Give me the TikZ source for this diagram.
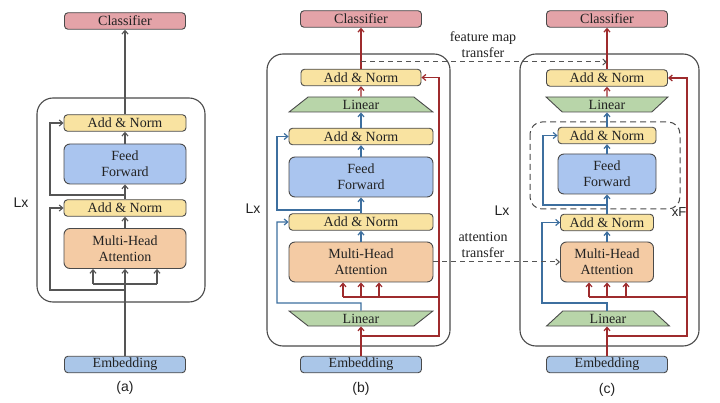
\documentclass[tikz,border=0pt]{standalone}
\usepackage{fontspec}
\setmainfont{Liberation Serif}
\newfontfamily\sflabel{Liberation Sans}
\usetikzlibrary{shapes.geometric,arrows.meta}

\definecolor{clsfill}{HTML}{E4A3A8}
\definecolor{anfill}{HTML}{F9E3A1}
\definecolor{fffill}{HTML}{AAC5EF}
\definecolor{mhafill}{HTML}{F4CBA4}
\definecolor{embfill}{HTML}{AAC6E8}
\definecolor{linfill}{HTML}{B8D5A9}
\definecolor{boxline}{HTML}{4A4A4A}
\definecolor{grayline}{HTML}{555555}
\definecolor{redline}{HTML}{9E2B2D}
\definecolor{blueline}{HTML}{3D6F9F}
\definecolor{txt}{HTML}{222222}

\tikzset{
    box/.style={draw=boxline, line width=0.9pt, rounded corners=3.5pt,
        inner sep=0pt, text=txt, align=center,
        font=\rmfamily\fontsize{14}{16}\selectfont},
    clsbox/.style={box, fill=clsfill, minimum width=121pt, minimum height=16.5pt},
    embbox/.style={box, fill=embfill, minimum width=121pt, minimum height=16.5pt},
    anbox/.style={box, fill=anfill, minimum width=#1, minimum height=16.5pt},
    ffbox/.style={box, fill=fffill, minimum width=#1, minimum height=40pt, rounded corners=6pt},
    mhabox/.style={box, fill=mhafill, minimum width=#1, minimum height=40pt, rounded corners=6pt},
    linbox/.style={draw=boxline, line width=0.9pt, fill=linfill, trapezium,
        trapezium left angle=55, trapezium right angle=55, trapezium stretches=true,
        minimum width=#1, minimum height=15pt, inner sep=0pt, text=txt,
        font=\rmfamily\fontsize{14}{16}\selectfont},
    blockline/.style={draw=boxline, line width=1.1pt, rounded corners=16pt},
    ffgroup/.style={draw=boxline, line width=1pt, dash pattern=on 6pt off 4pt, rounded corners=12pt},
    gline/.style={draw=grayline, line width=1.1pt},
    rline/.style={draw=redline, line width=1.2pt},
    bline/.style={draw=blueline, line width=1.2pt},
    tline/.style={draw=grayline, line width=1pt, dash pattern=on 5pt off 4pt},
    note/.style={align=center, text=txt, inner sep=0pt, font=\rmfamily\fontsize{14}{16}\selectfont},
    sflbl/.style={text=txt, inner sep=0pt, font=\sflabel\fontsize{14}{16}\selectfont}
}

\begin{document}
\begin{tikzpicture}[x=1pt, y=-1pt, >={Straight Barb[length=3.5pt,width=6pt]}]
    % 0. canvas
    \path[fill=white] (0,0) rectangle (720,403);
    % 1. def blocks
    \draw[blockline] (37,98) rectangle (205,302);
    \draw[blockline] (267,54) rectangle (450,346);
    \draw[blockline] (520,54) rectangle (699,346);
    \draw[ffgroup] (530,122) rectangle (680,209);

    % 2. def nodes (a)
    \node[clsbox] (cls_a) at (125,21) {Classifier};
    \node[anbox=122pt] (an2_a) at (125,123) {Add \& Norm};
    \node[ffbox=122pt] (ff_a) at (125,164) {Feed\\Forward};
    \node[anbox=122pt] (an1_a) at (125,208) {Add \& Norm};
    \node[mhabox=122pt] (mha_a) at (125,248.5) {Multi-Head\\Attention};
    \node[embbox] (emb_a) at (125,364.5) {Embedding};
    \node[sflbl] (lx_a) at (21,203) {Lx};
    \node[sflbl] (tag_a) at (125,388) {(a)};

    % 3. def nodes (b)
    \node[clsbox] (cls_b) at (361,19) {Classifier};
    \node[anbox=120pt] (an3_b) at (361,77.5) {Add \& Norm};
    \node[linbox=144pt] (lin2_b) at (361,104.5) {Linear};
    \node[anbox=144pt] (an2_b) at (361,136.5) {Add \& Norm};
    \node[ffbox=144pt] (ff_b) at (361,177) {Feed\\Forward};
    \node[anbox=144pt] (an1_b) at (361,222) {Add \& Norm};
    \node[mhabox=144pt] (mha_b) at (361,262) {Multi-Head\\Attention};
    \node[linbox=144pt, shape border rotate=180] (lin1_b) at (361,318.5) {Linear};
    \node[embbox] (emb_b) at (361,364.5) {Embedding};
    \node[sflbl] (lx_b) at (253,209) {Lx};
    \node[sflbl] (tag_b) at (361,389) {(b)};

    % 4. def nodes (c)
    \node[clsbox] (cls_c) at (607,19) {Classifier};
    \node[anbox=121pt] (an3_c) at (607,78) {Add \& Norm};
    \node[linbox=122pt, shape border rotate=180] (lin2_c) at (607,104.5) {Linear};
    \node[anbox=98pt] (an2_c) at (607,135.5) {Add \& Norm};
    \node[ffbox=98pt] (ff_c) at (607,174) {Feed\\Forward};
    \node[anbox=93pt] (an1_c) at (607,222.5) {Add \& Norm};
    \node[mhabox=93pt] (mha_c) at (607,262) {Multi-Head\\Attention};
    \node[linbox=123pt] (lin1_c) at (608,318.5) {Linear};
    \node[embbox] (emb_c) at (607,364.5) {Embedding};
    \node[sflbl] (lx_c) at (502,211) {Lx};
    \node[sflbl, font=\sflabel\fontsize{13}{15}\selectfont] (xf_c) at (679,212) {xF};
    \node[sflbl] (tag_c) at (607,390) {(c)};

    % 5. connectors (a)
    \coordinate (ja1) at (125,290);
    \coordinate (ra1) at (50,290);
    \coordinate (ja3) at (125,195);
    \coordinate (ra3) at (50,195);
    \coordinate (ha_l) at (93,284);
    \coordinate (ha_r) at (157,284);
    \draw[gline,->] (emb_a) -- (mha_a);
    \draw[gline,->] (ja1) -- (ra1) |- (an1_a.west);
    \draw[gline] (ha_l) -- (ha_r);
    \draw[gline,->] (ha_l) -- (ha_l |- mha_a.south);
    \draw[gline,->] (ha_r) -- (ha_r |- mha_a.south);
    \draw[gline,->] (mha_a) -- (an1_a);
    \draw[gline,->] (an1_a) -- (ff_a);
    \draw[gline,->] (ja3) -- (ra3) |- (an2_a.west);
    \draw[gline,->] (ff_a) -- (an2_a);
    \draw[gline,->] (an2_a) -- (cls_a);

    % 6. connectors (b)
    \coordinate (jb1) at (361,336);
    \coordinate (rb1) at (439,336);
    \coordinate (rb2) at (439,297);
    \coordinate (hb_l) at (343,297);
    \coordinate (jb2) at (361,303);
    \coordinate (lb2) at (277,303);
    \coordinate (jb3) at (361,210);
    \coordinate (lb3) at (277,210);
    \draw[rline,->] (emb_b) -- (lin1_b);
    \draw[rline,->] (jb1) -- (rb1) |- (an3_b.east);
    \draw[rline] (rb2) -- (hb_l);
    \foreach \hx in {343,361,379}
        \draw[rline,->] (\hx,297) -- (\hx,297 |- mha_b.south);
    \draw[bline,->] (lin1_b.north) -- (jb2) -- (lb2) |- (an1_b.west);
    \draw[bline,->] (mha_b) -- (an1_b);
    \draw[bline,->] (an1_b) -- (ff_b);
    \draw[bline,->] (jb3) -- (lb3) |- (an2_b.west);
    \draw[bline,->] (ff_b) -- (an2_b);
    \draw[bline,->] (an2_b) -- (lin2_b);
    \draw[rline,->] (lin2_b) -- (an3_b);
    \draw[rline,->] (an3_b) -- (cls_b);

    % 7. connectors (c)
    \coordinate (jc1) at (607,336);
    \coordinate (rc1) at (687,336);
    \coordinate (rc2) at (687,297);
    \coordinate (hc_l) at (589,297);
    \coordinate (jc2) at (607,303);
    \coordinate (lc2) at (542,303);
    \coordinate (jc3) at (607,205);
    \coordinate (lc3) at (543,205);
    \draw[rline,->] (emb_c) -- (emb_c |- lin1_c.south);
    \draw[rline,->] (jc1) -- (rc1) |- (an3_c.east);
    \draw[rline] (rc2) -- (hc_l);
    \foreach \hx in {589,607,626}
        \draw[rline,->] (\hx,297) -- (\hx,297 |- mha_c.south);
    \draw[bline,->] (emb_c |- lin1_c.north) -- (jc2) -- (lc2) |- (an1_c.west);
    \draw[bline,->] (mha_c) -- (an1_c);
    \draw[bline,->] (an1_c) -- (ff_c);
    \draw[bline,->] (jc3) -- (lc3) |- (an2_c.west);
    \draw[bline,->] (ff_c) -- (an2_c);
    \draw[bline,->] (an2_c) -- (lin2_c);
    \draw[rline,->] (lin2_c) -- (an3_c);
    \draw[rline,->] (an3_c) -- (cls_c);

    % 8. transfers
    \coordinate (fb) at (361,62);
    \coordinate (fc) at (607,62);
    \draw[tline,->] (fb) -- (fc);
    \draw[tline,->] (mha_b) -- (mha_c);
    \node[note] (fm_lbl) at (483,45) {feature map\\transfer};
    \node[note] (at_lbl) at (483,245) {attention\\transfer};
\end{tikzpicture}
\end{document}
